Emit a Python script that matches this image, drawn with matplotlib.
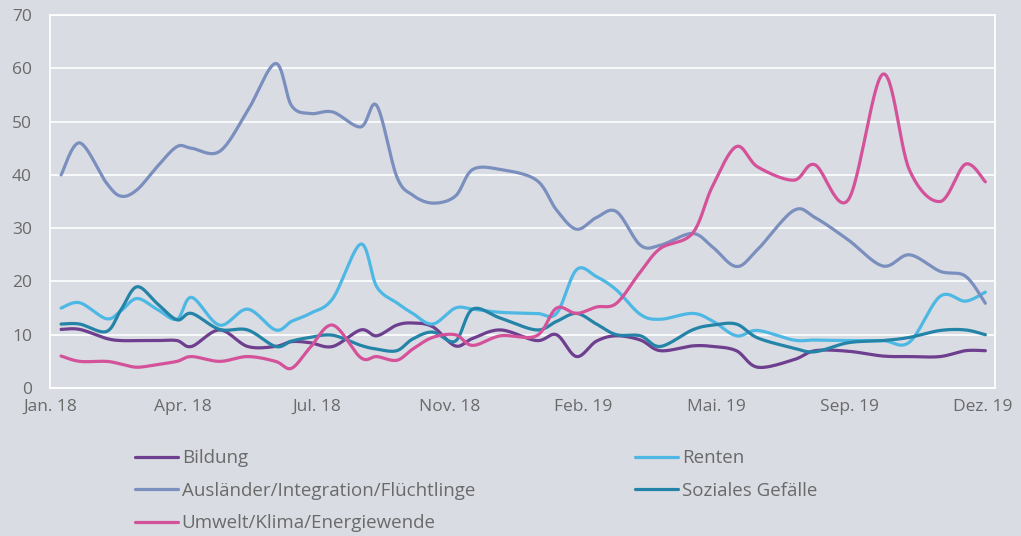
import numpy as np
import pandas as pd
import matplotlib
matplotlib.use("Agg")
import matplotlib.pyplot as plt
import matplotlib.dates as mdates

plt.rcParams['font.family'] = ['Open Sans', 'DejaVu Sans']

# survey dates
dates = ["2018-01-12", "2018-01-26", "2018-02-15", "2018-02-26", "2018-03-10",
         "2018-03-25", "2018-04-09", "2018-04-20", "2018-05-11", "2018-06-01",
         "2018-06-22", "2018-07-04", "2018-07-18", "2018-08-04", "2018-08-25",
         "2018-09-06", "2018-09-21", "2018-10-03", "2018-10-18", "2018-11-04",
         "2018-11-17", "2018-12-08", "2019-01-04", "2019-01-19", "2019-02-03",
         "2019-02-18", "2019-03-05", "2019-03-23", "2019-04-07", "2019-05-01",
         "2019-05-16", "2019-06-03", "2019-06-19", "2019-07-16", "2019-08-01",
         "2019-08-26", "2019-09-21", "2019-10-11", "2019-11-03", "2019-11-22",
         "2019-12-07"]

bildung = [11, 11, 9.3, 8.9, 8.9, 8.9, 8.9, 7.8, 10.9, 7.8,
           7.8, 8.7, 8.5, 7.8, 10.9, 9.8, 11.8, 12.2, 11.5, 7.9,
           9.3, 10.9, 8.9, 10, 5.9, 8.8, 9.8, 9, 7, 7.9,
           7.8, 7, 3.9, 5.3, 7, 6.9, 6, 5.9, 5.9, 7, 7]
renten = [15, 16, 13, 14.5, 16.8, 14.8, 12.9, 17, 11.8, 14.8,
          10.9, 12.5, 14, 16.8, 27, 19, 16, 14, 12, 15,
          14.8, 14.2, 14, 14, 22.2, 20.9, 18.4, 13.8, 12.9, 14,
          12.6, 9.8, 10.8, 9, 9, 8.9, 8.9, 8.6, 17.2, 16.3, 18]
auslaender = [40, 46, 38.5, 36, 37.2, 41.5, 45.3, 45, 44.4, 52,
              60.9, 53, 51.5, 51.8, 49, 53, 39.7, 36.2, 34.7, 36,
              41, 41, 39, 33.4, 29.8, 32, 33.1, 26.8, 26.8, 29,
              26.5, 22.8, 26, 33.3, 32, 27.8, 22.9, 25, 21.9, 21, 15.9]
soziales = [12, 12, 10.6, 14.7, 19, 15.9, 12.8, 14, 11, 10.9,
            7.8, 8.8, 9.5, 9.9, 8, 7.3, 7.0, 9.2, 10.5, 8.8,
            14.8, 13.1, 10.9, 12.5, 14, 12, 10, 9.8, 7.8, 10.9,
            11.8, 12, 9.4, 7.5, 6.8, 8.5, 8.9, 9.5, 10.8, 10.9, 10]
umwelt = [6, 5, 5, 4.5, 3.9, 4.4, 5, 5.9, 5, 5.9,
          5, 3.7, 7.6, 11.8, 5.7, 5.9, 5.2, 7.3, 9.5, 10,
          8, 9.8, 9.8, 15, 14, 15.2, 15.9, 21.8, 26.2, 29,
          37.8, 45.3, 41.5, 39, 41.9, 35.3, 58.9, 40.9, 35, 42, 38.7]

labels = ["Bildung", "Renten", "Ausländer/Integration/Flüchtlinge",
          "Soziales Gefälle", "Umwelt/Klima/Energiewende"]
colors = ["#6e3f8e", "#4db8e3", "#7b8fbe", "#2484a8", "#d4529a"]
tick_labels = ["Jan. 18", "Apr. 18", "Jul. 18", "Nov. 18",
               "Feb. 19", "Mai. 19", "Sep. 19", "Dez. 19"]


def smooth(x, y, n=30):
    # excel style smoothed line: bezier with control points at 1/6 of the neighbour chord
    x = np.asarray(x, float)
    y = np.asarray(y, float)
    px = np.concatenate([[x[0]], x, [x[-1]]])
    py = np.concatenate([[y[0]], y, [y[-1]]])
    t = np.linspace(0, 1, n)[:, None]
    out = []
    for i in range(len(x) - 1):
        p0 = np.array([x[i], y[i]])
        p3 = np.array([x[i + 1], y[i + 1]])
        prev = np.array([px[i], py[i]])
        nxt = np.array([px[i + 3], py[i + 3]])
        c1 = p0 + (p3 - prev) / 6
        c2 = p3 - (nxt - p0) / 6
        seg = (1 - t) ** 3 * p0 + 3 * (1 - t) ** 2 * t * c1 + 3 * (1 - t) * t ** 2 * c2 + t ** 3 * p3
        out.append(seg if i == 0 else seg[1:])
    out = np.vstack(out)
    return out[:, 0], out[:, 1]


bg = "#d9dce3"
txt = "#6a6a6a"
fig = plt.figure(figsize=(10.21, 5.36), dpi=100, facecolor=bg)
ax = fig.add_axes([0.049, 0.2761, 0.9255, 0.6959], facecolor=bg)

x = mdates.date2num(pd.to_datetime(dates))
lines = []
for lab, vals, col in zip(labels, [bildung, renten, auslaender, soziales, umwelt], colors):
    sx, sy = smooth(x, vals)
    ln, = ax.plot(sx, sy, color=col, lw=2.3, label=lab, solid_capstyle="round")
    lines.append(ln)

x0 = x[0]
ax.set_xlim(x0 - 8.3, x0 + 701.2)
ax.set_ylim(0, 70)
ax.set_xticks(x0 - 8.3 + 100 * np.arange(len(tick_labels)))
ax.set_xticklabels(tick_labels)
ax.set_yticks(np.arange(0, 71, 10))

ax.grid(axis="y", color="white", lw=1.2)
ax.set_axisbelow(True)
for s in ax.spines.values():
    s.set_color("white")
    s.set_linewidth(1.3)
ax.tick_params(length=0, colors=txt, labelsize=12.5)
ax.tick_params(axis="y", pad=13)
ax.tick_params(axis="x", pad=8)

order = [0, 2, 4, 1, 3]
leg = fig.legend([lines[i] for i in order], [labels[i] for i in order],
                 loc="upper left", bbox_to_anchor=(0.132, 0.162), ncol=2,
                 frameon=False, fontsize=13.5, handlelength=2.3, handletextpad=0.2,
                 columnspacing=8.55, labelspacing=0.78, borderpad=0, borderaxespad=0)
for t in leg.get_texts():
    t.set_color(txt)

fig.savefig("out.png", dpi=100, facecolor=bg)
